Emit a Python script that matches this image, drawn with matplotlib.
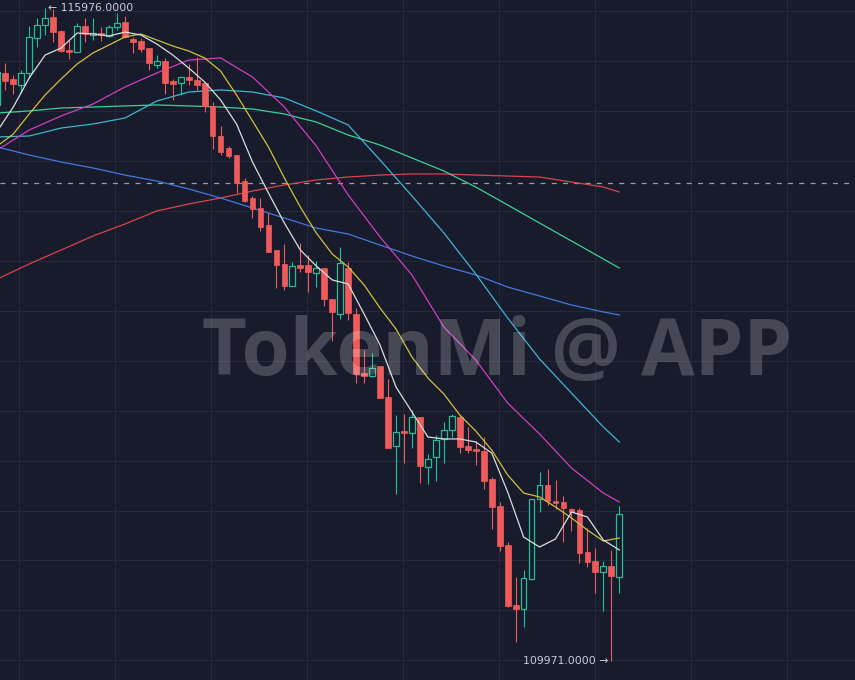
import matplotlib
matplotlib.use("Agg")
import matplotlib.pyplot as plt
from matplotlib.patches import Rectangle
import numpy as np

# candle data, first candle is cut by the left edge
opens = [115085, 115379, 115324, 115268, 115379, 115700, 115820, 115891, 115765, 115590,
         115574, 115811, 115728, 115746, 115721, 115804, 115847, 115691, 115673, 115606,
         115452, 115489, 115301, 115284, 115342, 115314, 115284, 115075, 114800, 114687,
         114625, 114386, 114233, 114135, 113982, 113752, 113624, 113424, 113619, 113614,
         113544, 113584, 113302, 113161, 113584, 113164, 112622, 112597, 112686, 112404,
         111954, 112089, 112075, 112215, 111761, 111846, 112011, 112096, 112215, 111951,
         111921, 111905, 111648, 111400, 111042, 110490, 110451, 110726, 111461, 111593,
         111446, 111439, 111368, 111359, 110974, 110890, 110791, 110849, 110750]
highs = [115498, 115471, 115360, 115406, 115811, 115884, 115976, 115967, 115774, 115682,
         115838, 115884, 115884, 115801, 115820, 115930, 115902, 115710, 115696, 115608,
         115544, 115514, 115324, 115342, 115461, 115526, 115287, 115112, 114892, 114708,
         114628, 114411, 114253, 114230, 114092, 113755, 113807, 113645, 113814, 113706,
         113651, 113587, 113305, 113783, 113645, 113219, 112833, 112803, 112689, 112564,
         112236, 112245, 112282, 112218, 111878, 112048, 112172, 112245, 112236, 112129,
         111997, 112037, 111669, 111439, 111072, 110750, 110812, 111464, 111708, 111737,
         111639, 111492, 111386, 111382, 111198, 111014, 110890, 110996, 111397]
lows = [115020, 115222, 115186, 115195, 115333, 115618, 115728, 115666, 115572, 115505,
        115572, 115664, 115682, 115673, 115710, 115774, 115700, 115560, 115572, 115406,
        115425, 115190, 115131, 115177, 115268, 115222, 115020, 114680, 114625, 114600,
        114276, 114196, 114044, 113927, 113734, 113403, 113385, 113421, 113553, 113362,
        113410, 113240, 112919, 113118, 113109, 112530, 112526, 112588, 112392, 111933,
        111507, 111795, 111933, 111608, 111602, 111630, 111792, 112034, 111884, 111887,
        111777, 111553, 111186, 110984, 110469, 110147, 110285, 110723, 111348, 111409,
        111372, 111072, 111170, 110876, 110842, 110598, 110432, 109971, 110603]
closes = [115388, 115305, 115275, 115376, 115707, 115820, 115881, 115758, 115581, 115569,
          115811, 115737, 115746, 115728, 115804, 115841, 115705, 115666, 115599, 115468,
          115492, 115290, 115275, 115339, 115314, 115268, 115075, 114800, 114656, 114616,
          114371, 114205, 114129, 113966, 113737, 113614, 113421, 113605, 113591, 113553,
          113584, 113302, 113185, 113630, 113176, 112613, 112597, 112665, 112395, 111936,
          112077, 112071, 112215, 111770, 111829, 112006, 112098, 112227, 111945, 111919,
          111901, 111632, 111393, 111032, 110484, 110453, 110736, 111461, 111593, 111446,
          111430, 111379, 111342, 110965, 110888, 110796, 110849, 110759, 111324]

# moving averages (fast ones every 2 candles, slow ones every 4)
ma_white = [114846, 115066, 115333, 115544, 115608, 115746, 115737, 115719, 115755, 115728,
            115645, 115544, 115425, 115296, 115131, 114910, 114561, 114276, 114000, 113752,
            113605, 113477, 113440, 113164, 112879, 112493, 112264, 112034, 112016, 112016,
            111988, 111887, 111529, 111115, 111023, 111097, 111345, 111299, 111087, 110996]
ma_yellow = [114708, 114818, 115002, 115177, 115324, 115461, 115563, 115636, 115710, 115737,
             115682, 115627, 115581, 115517, 115397, 115177, 114938, 114699, 114414, 114147,
             113909, 113716, 113596, 113431, 113219, 113026, 112769, 112576, 112429, 112236,
             112089, 111914, 111685, 111519, 111483, 111391, 111290, 111179, 111078, 111106]
ma_magenta = [114671, 114855, 114984, 115094, 115250, 115379, 115498, 115517, 115342, 115066,
              114708, 114258, 113872, 113523, 113045, 112742, 112346, 112062, 111749, 111519, 111437]
ma_cyan = [114791, 114800, 114873, 114910, 114965, 115121, 115204, 115223, 115204, 115149,
           115030, 114901, 114579, 114249, 113909, 113532, 113127, 112751, 112438, 112126, 111988]
ma_green = [115011, 115030, 115057, 115066, 115076, 115085, 115076, 115066, 115048, 115002,
            114928, 114809, 114717, 114598, 114478, 114331, 114166, 114000, 113835, 113670, 113587]
ma_blue = [114699, 114625, 114561, 114506, 114441, 114386, 114313, 114230, 114138, 114046,
           113954, 113899, 113798, 113697, 113605, 113523, 113412, 113330, 113247, 113183, 113155]
ma_red = [113486, 113624, 113752, 113881, 113991, 114111, 114175, 114230, 114294, 114350,
          114396, 114423, 114441, 114451, 114451, 114441, 114432, 114423, 114377, 114331, 114285]
alert_price = 114365

idx = np.arange(-1, len(opens) - 1)
fast_idx = np.arange(-1, 78, 2)
slow_idx = np.array(list(range(-1, 76, 4)) + [77])

BG = '#181b2b'
GRID = '#252939'
UP = '#22bf96'
DOWN = '#ef5b5b'

fig = plt.figure(figsize=(8.55, 6.8), dpi=100, facecolor=BG)
ax = fig.add_axes([0, 0, 1, 1], facecolor=BG)
ax.set_xlim(-0.665, 106.56)
ax.set_ylim(109801, 116049.5)
ax.axis('off')

# grid
for gx in np.arange(19, 855, 96):
    ax.plot([gx / 855, gx / 855], [0, 1], color=GRID, lw=0.8, transform=ax.transAxes, zorder=0)
for gy in np.arange(11, 680, 49.95):
    ax.plot([0, 1], [1 - gy / 680, 1 - gy / 680], color=GRID, lw=0.8, transform=ax.transAxes, zorder=0)

# moving averages
ax.plot(slow_idx, ma_red, color='#d9434b', lw=0.9, zorder=2)
ax.plot(slow_idx, ma_blue, color='#4279dc', lw=0.9, zorder=2)
ax.plot(slow_idx, ma_green, color='#3fcf94', lw=0.9, zorder=2)
ax.plot(slow_idx, ma_cyan, color='#3cb6d2', lw=0.9, zorder=2)
ax.plot(slow_idx, ma_magenta, color='#cf3fbf', lw=0.9, zorder=2)

ax.axhline(alert_price, color='#9a9eab', lw=0.9, dashes=(4, 5), zorder=1)

# candles
w = 0.72
for x, o, h, l, c in zip(idx, opens, highs, lows, closes):
    up = c >= o
    col = UP if up else DOWN
    ax.plot([x, x], [l, h], color=col, lw=0.8, zorder=3, solid_capstyle='butt')
    bottom = min(o, c)
    height = max(abs(c - o), 9)
    if up:
        ax.add_patch(Rectangle((x - w / 2, bottom), w, height, facecolor=BG,
                               edgecolor=col, lw=0.9, zorder=4))
    else:
        ax.add_patch(Rectangle((x - w / 2, bottom), w, height, facecolor=col,
                               edgecolor=col, lw=0.5, zorder=4))

ax.plot(fast_idx, ma_yellow, color='#d0c03a', lw=0.9, zorder=5)
ax.plot(fast_idx, ma_white, color='#dcdcdc', lw=0.9, zorder=5)

# high / low labels
hi = int(np.argmax(highs))
lo = int(np.argmin(lows))
ax.annotate('\u2190 %.4f' % highs[hi], (idx[hi], highs[hi]), xytext=(2, 0),
            textcoords='offset points', ha='left', va='center',
            fontsize=7.8, color='#c9ccd6', zorder=6)
ax.annotate('%.4f \u2192' % lows[lo], (idx[lo], lows[lo]), xytext=(-2, 0),
            textcoords='offset points', ha='right', va='center',
            fontsize=7.8, color='#c9ccd6', zorder=6)

fig.text(0.581, 0.479, 'TokenMi @ APP', ha='center', va='center', fontsize=56,
         fontweight='bold', family='Open Sans', color='white', alpha=0.2, zorder=10)

fig.savefig('out.png', dpi=100, facecolor=BG)
